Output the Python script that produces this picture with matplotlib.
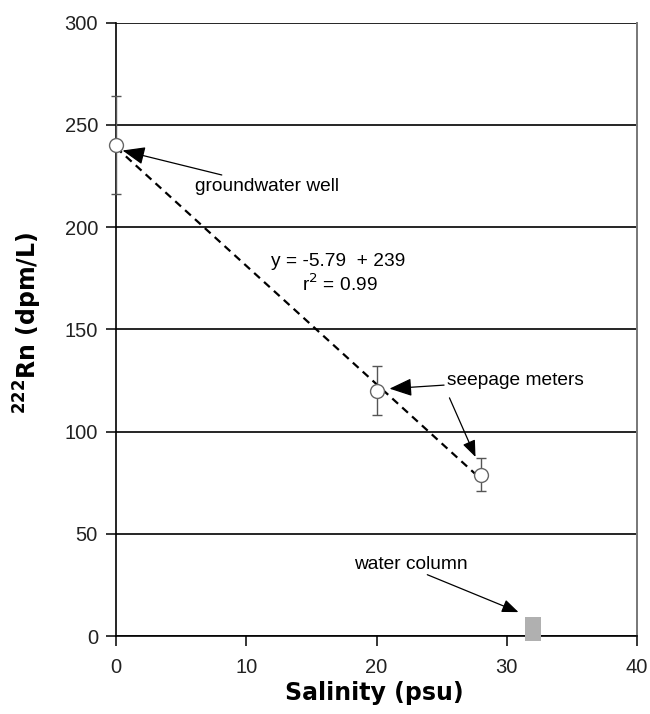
import matplotlib.pyplot as plt
import numpy as np

# data
salinity = [0, 20, 28]
radon = [240, 120, 79]
radon_err = [24, 12, 8]

wc_salinity = [32]
wc_radon = [3.5]
wc_height = 11.5

fit_slope = -5.79
fit_intercept = 239

plt.rcParams['font.family'] = ['Liberation Sans', 'DejaVu Sans']

fig = plt.figure(figsize=(6.5, 7.14), dpi=100)
ax = fig.add_axes([0.1785, 0.1092, 0.8015, 0.8590])

ax.set_xlim(0, 40)
ax.set_ylim(0, 300)
ax.set_xticks(np.arange(0, 41, 10))
ax.set_yticks(np.arange(0, 301, 50))
ax.yaxis.grid(True, color='black', linewidth=1.2)
ax.set_axisbelow(True)

ax.spines['top'].set_visible(False)
ax.spines['right'].set_color('#777777')
ax.spines['right'].set_linewidth(1.4)
ax.spines['left'].set_linewidth(1.2)
ax.spines['bottom'].set_linewidth(1.2)

ax.tick_params(axis='both', direction='out', length=7, width=1.1,
               labelsize=14.5, colors='black', labelcolor='#222222')
ax.tick_params(axis='x', pad=9)
ax.tick_params(axis='y', pad=6)

# trend line
fx = np.array([salinity[0], salinity[-1]])
ax.plot(fx, fit_slope * fx + fit_intercept, color='black', linestyle=(0, (3.5, 2.5)),
        linewidth=1.6, zorder=3)

# data points with error bars
ax.errorbar(salinity, radon, yerr=radon_err, fmt='o', markersize=10,
            markerfacecolor='white', markeredgecolor='#666666', markeredgewidth=1,
            ecolor='#555555', elinewidth=1, capsize=3.5, capthick=1,
            clip_on=False, zorder=4)

# water column
ax.bar(wc_salinity, wc_height, width=1.2, bottom=np.array(wc_radon) - wc_height / 2,
       color='#b0b0b0', clip_on=False, zorder=4)

arrow = dict(arrowstyle='-|>,head_length=1.0,head_width=0.4', color='black',
             linewidth=0.9, shrinkA=0, shrinkB=0)

fs = 13.8
ax.annotate('groundwater well', xy=(0.5, 237.5), xytext=(6.1, 220),
            fontsize=fs, va='center', ha='left', arrowprops=arrow)

ax.text(11.9, 183, 'y = -5.79  + 239', fontsize=fs, va='center', ha='left')
ax.text(14.3, 172, 'r$^2$ = 0.99', fontsize=fs, va='center', ha='left')

ax.annotate('seepage meters', xy=(21, 121), xytext=(25.4, 125),
            fontsize=fs, va='center', ha='left', arrowprops=arrow)
ax.annotate('', xy=(27.6, 87.6), xytext=(25.6, 116.5), arrowprops=arrow)

ax.text(18.3, 35, 'water column', fontsize=fs, va='center', ha='left')
ax.annotate('', xy=(30.9, 11.7), xytext=(23.9, 30), arrowprops=arrow)

ax.set_xlabel('Salinity (psu)', fontsize=17, fontweight='bold', family='DejaVu Sans')
ax.xaxis.set_label_coords(0.495, -0.073)
ax.set_ylabel('$^{\\mathbf{222}}$Rn (dpm/L)', fontsize=17, fontweight='bold',
              family='DejaVu Sans')
ax.yaxis.set_label_coords(-0.138, 0.51)

fig.savefig('out.png', dpi=100)
